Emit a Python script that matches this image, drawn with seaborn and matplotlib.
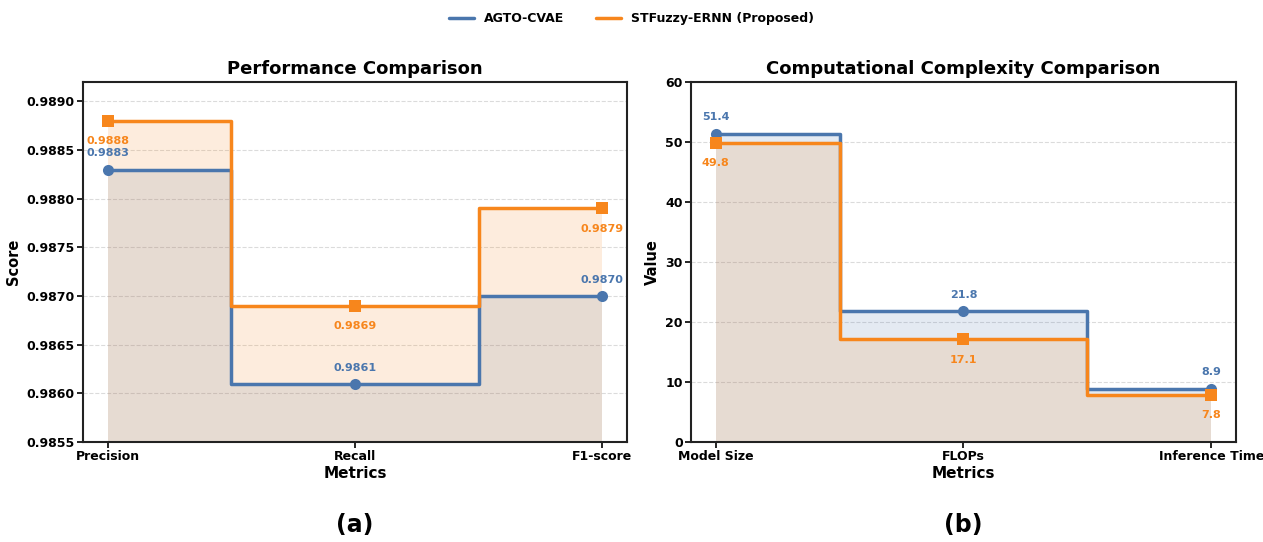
import numpy as np
import pandas as pd
import matplotlib.pyplot as plt
import seaborn as sns
from matplotlib.lines import Line2D

# data
perf_metrics = ['Precision', 'Recall', 'F1-score']
perf_agto = [0.9883, 0.9861, 0.9870]
perf_stf = [0.9888, 0.9869, 0.9879]

comp_metrics = ['Model Size', 'FLOPs', 'Inference Time']
comp_agto = [51.4, 21.8, 8.9]
comp_stf = [49.8, 17.1, 7.8]

series_names = ['AGTO-CVAE', 'STFuzzy-ERNN (Proposed)']
blue = '#4a76ad'
orange = '#f7861c'

sns.set_style('white')
plt.rcParams['font.family'] = ['DejaVu Sans']
plt.rcParams.update({'text.color': 'black', 'axes.labelcolor': 'black',
                     'xtick.color': 'black', 'ytick.color': 'black'})

fig = plt.figure(figsize=(12.63, 5.42), dpi=100)
ax1 = fig.add_axes([0.0657, 0.1845, 0.4307, 0.6642])
ax2 = fig.add_axes([0.5471, 0.1845, 0.4315, 0.6642])


def draw_panel(ax, metrics, agto, stf, ylim, fmt, title, ylabel, letter):
    x = np.arange(len(metrics))
    df = pd.DataFrame({'x': x, 'agto': agto, 'stf': stf})
    base = ylim[0]
    # shaded areas under each step line
    ax.fill_between(df['x'], base, df['agto'], step='mid', color=blue, alpha=0.15, lw=0)
    ax.fill_between(df['x'], base, df['stf'], step='mid', color=orange, alpha=0.15, lw=0)
    sns.lineplot(data=df, x='x', y='agto', ax=ax, color=blue, lw=2.5,
                 drawstyle='steps-mid', marker='o', markersize=8,
                 markeredgewidth=0, zorder=3)
    sns.lineplot(data=df, x='x', y='stf', ax=ax, color=orange, lw=2.5,
                 drawstyle='steps-mid', marker='s', markersize=8,
                 markeredgewidth=0, zorder=4)
    for xi, v in zip(x, agto):
        ax.annotate(fmt.format(v), (xi, v), xytext=(0, 8), textcoords='offset points',
                    ha='center', va='bottom', color=blue, fontsize=8, fontweight='bold')
    for xi, v in zip(x, stf):
        ax.annotate(fmt.format(v), (xi, v), xytext=(0, -11), textcoords='offset points',
                    ha='center', va='top', color=orange, fontsize=8, fontweight='bold')

    ax.set_ylim(*ylim)
    ax.margins(x=0.05)
    ax.set_xticks(x)
    ax.set_xticklabels(metrics)
    ax.set_title(title, fontsize=13, fontweight='bold', pad=6)
    ax.set_xlabel('Metrics', fontsize=11, fontweight='bold', labelpad=2)
    ax.set_ylabel(ylabel, fontsize=10.5, fontweight='bold')
    ax.yaxis.grid(True, linestyle='--', color='#cccccc', alpha=0.7, lw=0.8)
    ax.set_axisbelow(True)
    ax.tick_params(axis='both', labelsize=9, length=4, width=1.2, color='black',
                   labelcolor='black', bottom=True, left=True, pad=2)
    for lab in ax.get_xticklabels() + ax.get_yticklabels():
        lab.set_fontweight('bold')
    for sp in ax.spines.values():
        sp.set_color('#222222')
        sp.set_linewidth(1.5)
    # panel letter below the axes
    x_mid = (ax.get_position().x0 + ax.get_position().x1) / 2
    fig.text(x_mid, 0.031, letter, ha='center', va='center', fontsize=17,
             fontweight='bold')


draw_panel(ax1, perf_metrics, perf_agto, perf_stf, (0.9855, 0.9892), '{:.4f}',
           'Performance Comparison', 'Score', '(a)')
ax1.set_yticks([0.9855, 0.9860, 0.9865, 0.9870, 0.9875, 0.9880, 0.9885, 0.9890])
ax1.set_yticklabels([f'{t:.4f}' for t in ax1.get_yticks()], fontweight='bold')

draw_panel(ax2, comp_metrics, comp_agto, comp_stf, (0, 60), '{:.1f}',
           'Computational Complexity Comparison', 'Value', '(b)')

handles = [Line2D([0], [0], color=blue, lw=2.5), Line2D([0], [0], color=orange, lw=2.5)]
fig.legend(handles, series_names, loc='center', bbox_to_anchor=(0.5, 0.965), ncol=2,
           frameon=False, prop={'weight': 'bold', 'size': 9}, columnspacing=2.5)

fig.savefig('out.png', dpi=100)
